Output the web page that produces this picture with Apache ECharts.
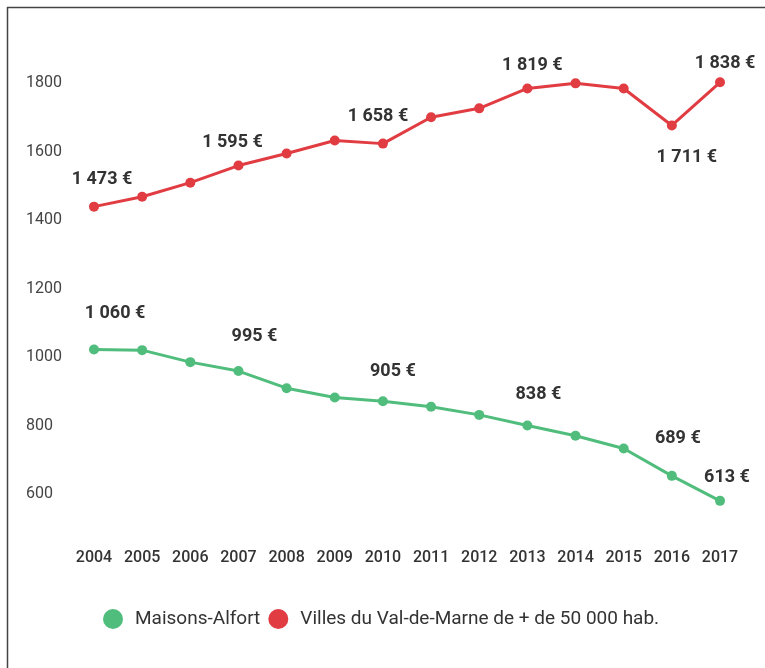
<!DOCTYPE html>
<html>
<head>
<meta charset="utf-8">
<script src="https://cdn.jsdelivr.net/npm/echarts@6/dist/echarts.min.js"></script>
<style>
  html, body { margin: 0; padding: 0; background: #fff; }
  #chart { width: 765px; height: 668px; }
</style>
</head>
<body>
<div id="chart"></div>
<script>
const years = ['2004', '2005', '2006', '2007', '2008', '2009', '2010', '2011', '2012', '2013', '2014', '2015', '2016', '2017'];
const yTicks = [600, 800, 1000, 1200, 1400, 1600, 1800];

// valeurs
const villesValues = [1439, 1468, 1509, 1559, 1594, 1632, 1623, 1700, 1726, 1784, 1799, 1784, 1676, 1802];
const maisonsValues = [1022, 1020, 985, 959, 909, 882, 871, 855, 831, 800, 770, 733, 653, 580];

// étiquettes affichées sur certains points
const villesLabels = ['1 473 €', '', '', '1 595 €', '', '', '1 658 €', '', '', '1 819 €', '', '', '1 711 €', '1 838 €'];
const maisonsLabels = ['1 060 €', '', '', '995 €', '', '', '905 €', '', '', '838 €', '', '', '689 €', '613 €'];

const seriesNames = ['Maisons-Alfort', 'Villes du Val-de-Marne de + de 50 000 hab.'];

const RED = '#e03c42';
const GREEN = '#50bd7c';

// décalage des étiquettes par rapport au point
const villesOffsets = { 0: [8, -27], 3: [-6, -23], 6: [-5, -27], 9: [5, -23], 12: [15, 32], 13: [5, -19] };
const maisonsOffsets = { 0: [21, -36], 3: [16, -35], 6: [10, -30], 9: [11, -31], 12: [6, -37], 13: [7, -23] };

function buildData(values, labels, offsets) {
    return values.map(function (v, i) {
        const item = { value: v };
        if (labels[i]) {
            item.label = {
                show: true,
                position: 'inside',
                formatter: labels[i],
                offset: offsets[i] || [0, -25]
            };
        }
        return item;
    });
}

const chart = echarts.init(document.getElementById('chart'));

const labelStyle = {
    show: false,
    color: '#333',
    fontFamily: 'Roboto',
    fontWeight: 'bold',
    fontSize: 18
};

const option = {
    animation: false,
    backgroundColor: '#fff',
    grid: { left: 94, right: 45, top: 83, bottom: 174 },
    legend: {
        data: seriesNames,
        left: 98,
        top: 604,
        icon: 'circle',
        itemWidth: 34,
        itemHeight: 20,
        itemGap: 8,
        textStyle: { fontFamily: 'Roboto', fontSize: 19, color: '#333' }
    },
    xAxis: {
        type: 'category',
        data: years,
        boundaryGap: false,
        axisLine: { show: false },
        axisTick: { show: false },
        axisLabel: { interval: 0, margin: 56, color: '#333', fontFamily: 'Roboto', fontWeight: 500, fontSize: 16 }
    },
    yAxis: {
        type: 'value',
        min: yTicks[0],
        max: yTicks[yTicks.length - 1],
        interval: 200,
        splitLine: { show: false },
        axisLine: { show: false },
        axisTick: { show: false },
        axisLabel: {
            align: 'left', margin: 68, color: '#444', fontFamily: 'Roboto', fontSize: 16,
            formatter: function (v) { return String(v); }
        }
    },
    graphic: [
        { type: 'line', shape: { x1: 7, y1: 7.5, x2: 765, y2: 7.5 }, style: { stroke: '#444', lineWidth: 1.5 } },
        { type: 'line', shape: { x1: 7.5, y1: 7, x2: 7.5, y2: 668 }, style: { stroke: '#444', lineWidth: 1.5 } }
    ],
    series: [
        {
            name: seriesNames[0],
            type: 'line',
            clip: false,
            data: buildData(maisonsValues, maisonsLabels, maisonsOffsets),
            symbol: 'circle',
            symbolSize: 10,
            itemStyle: { color: GREEN },
            lineStyle: { color: GREEN, width: 3 },
            label: labelStyle
        },
        {
            name: seriesNames[1],
            type: 'line',
            clip: false,
            data: buildData(villesValues, villesLabels, villesOffsets),
            symbol: 'circle',
            symbolSize: 10,
            itemStyle: { color: RED },
            lineStyle: { color: RED, width: 3 },
            label: labelStyle
        }
    ]
};

chart.setOption(option);
</script>
</body>
</html>
